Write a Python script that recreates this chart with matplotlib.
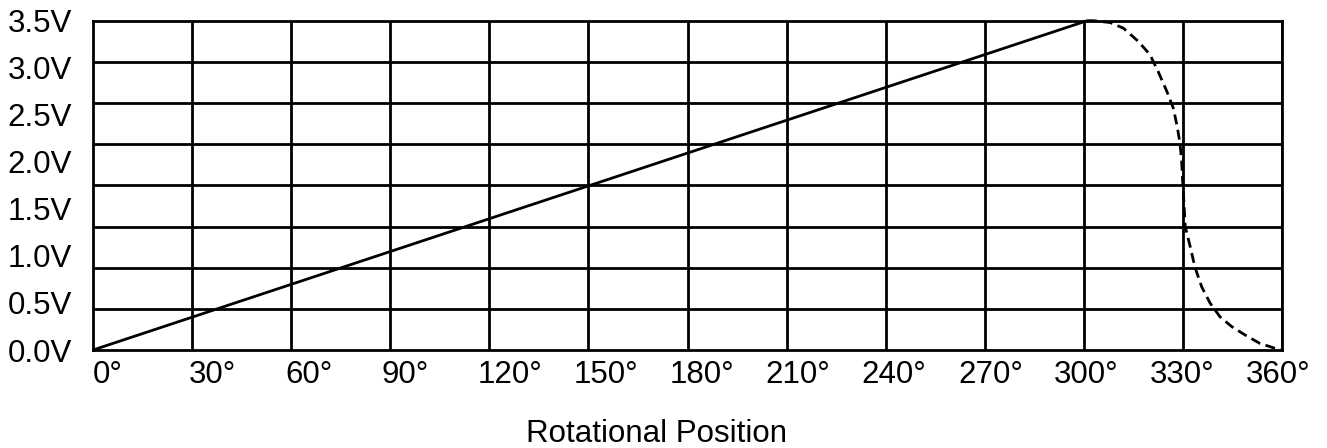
import numpy as np
import matplotlib.pyplot as plt

plt.rcParams['font.family'] = ['Liberation Sans', 'DejaVu Sans']

# linear part of the output
lin_deg = [0, 301]
lin_volt = [0.0, 3.5]

# roll-off part (dashed)
drop_deg = [301, 303, 308, 312, 316.5, 320, 322.5, 325, 327.1, 328.3,
            329.1, 329.6, 329.9, 330.1, 330.7, 332.2, 333.6, 335.7, 338.2,
            341.2, 344.8, 348.8, 353.3, 357.9, 360]
drop_volt = [3.5, 3.5, 3.48, 3.42, 3.28, 3.14, 2.96, 2.76, 2.57, 2.37,
             2.20, 2.02, 1.80, 1.70, 1.31, 1.10, 0.885, 0.67, 0.50,
             0.354, 0.248, 0.16, 0.07, 0.018, 0.0]

x_labels = ["0°", "30°", "60°", "90°", "120°", "150°", "180°", "210°",
            "240°", "270°", "300°", "330°", "360°"]
y_values = [0.0, 0.5, 1.0, 1.5, 2.0, 2.5, 3.0, 3.5]
y_labels = ["0.0V", "0.5V", "1.0V", "1.5V", "2.0V", "2.5V", "3.0V", "3.5V"]

fig = plt.figure(figsize=(13.27, 4.48), dpi=100)
ax = fig.add_axes([93 / 1327, 1 - 350 / 448, 1189 / 1327, 329.3 / 448])

lw = 2.0
ax.plot(lin_deg, lin_volt, color="black", lw=lw, clip_on=False,
        solid_capstyle="butt")
dl, = ax.plot(drop_deg, drop_volt, color="black", lw=lw, clip_on=False)
dl.set_dashes((3.6, 2.0))

ax.set_xlim(0, 360)
ax.set_ylim(0, 3.5)

# grid: 12 columns and 8 rows
ax.set_xticks(np.arange(0, 361, 30), minor=True)
ax.set_yticks(np.linspace(0, 3.5, 9), minor=True)
ax.grid(which="minor", color="black", lw=lw)
ax.tick_params(which="both", length=0)

# labels are spaced a little tighter than the grid in the original
ax.set_xticks(np.arange(13) * 96.1 / 1189 * 360, labels=x_labels)
for lbl in ax.get_xticklabels():
    lbl.set_ha("left")
ax.set_yticks(y_values, labels=y_labels)
ax.tick_params(axis="x", which="major", pad=7, labelsize=22.5)
ax.tick_params(axis="y", which="major", pad=15, labelsize=22.5)

for sp in ax.spines.values():
    sp.set_linewidth(lw)
    sp.set_color("black")
ax.set_axisbelow(True)

fig.text(657 / 1327, 1 - 442 / 448, "Rotational Position", fontsize=22.5,
         ha="center", va="baseline")

fig.savefig("out.png", dpi=100)
